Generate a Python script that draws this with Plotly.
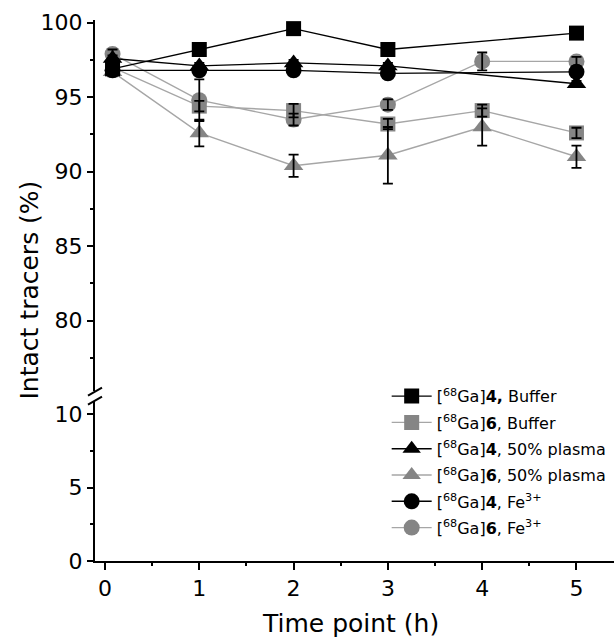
import plotly.graph_objects as go

# ---------------- data ----------------
time_h = [0.08, 1, 2, 3, 4, 5]

ga4_buffer = [96.9, 98.2, 99.6, 98.2, None, 99.3]
ga4_buffer_err = [0.2, 0.2, 0.2, 0.2, None, 0.2]

ga6_buffer = [97.0, 94.4, 94.1, 93.2, 94.1, 92.6]
ga6_buffer_err = [0.3, 0.35, 0.45, 0.35, 0.4, 0.35]

ga4_plasma = [97.6, 97.1, 97.3, 97.1, None, 95.9]
ga4_plasma_err = [0.2, 0.2, 0.2, 0.2, None, 0.2]

ga6_plasma = [96.7, 92.6, 90.4, 91.1, 93.0, 91.0]
ga6_plasma_err = [0.3, 0.9, 0.75, 1.9, 1.25, 0.75]

ga4_fe = [96.8, 96.8, 96.8, 96.6, None, 96.7]
ga4_fe_err = [0.2, 0.2, 0.2, 0.2, None, 0.2]

ga6_fe = [97.9, 94.8, 93.5, 94.5, 97.4, 97.4]
ga6_fe_err = [0.3, 1.4, 0.4, 0.35, 0.6, 0.3]

series_names = [
    "[<sup>68</sup>Ga]<b>4,</b> Buffer",
    "[<sup>68</sup>Ga]<b>6</b>, Buffer",
    "[<sup>68</sup>Ga]<b>4</b>, 50% plasma",
    "[<sup>68</sup>Ga]<b>6</b>, 50% plasma",
    "[<sup>68</sup>Ga]<b>4</b>, Fe<sup>3+</sup>",
    "[<sup>68</sup>Ga]<b>6</b>, Fe<sup>3+</sup>",
]

x_ticks = [0, 1, 2, 3, 4, 5]
y_ticks_low = [0, 5, 10]
y_ticks_high = [80, 85, 90, 95, 100]

# ---------------- styling / layout ----------------
BLACK = "#000000"
GRAY = "#858585"
GRAY_LINE = "#a6a6a6"
FONT = "DejaVu Sans"

W, H = 614, 637
ML, MR, MT, MB = 95, 0, 20, 76
PH = H - MT - MB
PW = W - ML - MR

low_range = [0, 10.88]
high_range = [75.28, 100.18]
px_low = 14.7
px_high = 14.9
low_dom = [0, (low_range[1] - low_range[0]) * px_low / PH]
high_dom = [1 - (high_range[1] - high_range[0]) * px_high / PH, 1]
x_range = [-0.106, 5.398]

specs = [
    (0, ga4_buffer, ga4_buffer_err, "square", BLACK, BLACK, 15),
    (1, ga6_buffer, ga6_buffer_err, "square", GRAY, GRAY_LINE, 15),
    (2, ga4_plasma, ga4_plasma_err, "triangle-up", BLACK, BLACK, 17),
    (3, ga6_plasma, ga6_plasma_err, "triangle-up", GRAY, GRAY_LINE, 17),
    (4, ga4_fe, ga4_fe_err, "circle", BLACK, BLACK, 16),
    (5, ga6_fe, ga6_fe_err, "circle", GRAY, GRAY_LINE, 16),
]
draw_order = [3, 1, 5, 4, 2, 0]

fig = go.Figure()

# empty trace so the lower axis segment exists
fig.add_trace(go.Scatter(x=[], y=[], xaxis="x", yaxis="y", showlegend=False,
                         hoverinfo="skip"))

for k in draw_order:
    idx, yv, ev, sym, mc, lc, sz = specs[k]
    fig.add_trace(go.Scatter(
        x=time_h, y=yv, name=series_names[idx], mode="lines+markers",
        xaxis="x", yaxis="y2", connectgaps=True,
        line=dict(color=lc, width=1.4),
        marker=dict(symbol=sym, size=sz, color=mc, line=dict(width=0)),
        legendrank=idx + 1, legendgroup=f"g{idx}", cliponaxis=False,
    ))

# error bars on top of all markers
for k in draw_order:
    idx, yv, ev, sym, mc, lc, sz = specs[k]
    fig.add_trace(go.Scatter(
        x=time_h, y=yv, mode="markers", xaxis="x", yaxis="y2",
        marker=dict(size=1, opacity=0), showlegend=False, hoverinfo="skip",
        legendgroup=f"g{idx}",
        error_y=dict(type="data", array=ev, visible=True, color=BLACK,
                     thickness=1.8, width=5),
        cliponaxis=False,
    ))

axis_common = dict(
    showline=True, linecolor=BLACK, linewidth=2, showgrid=False, zeroline=False,
    ticks="outside", ticklen=6, tickwidth=2, tickcolor=BLACK,
    tickfont=dict(family=FONT, size=22, color=BLACK),
)

fig.update_layout(
    width=W, height=H,
    margin=dict(l=ML, r=MR, t=MT, b=MB, autoexpand=False),
    paper_bgcolor="white", plot_bgcolor="white",
    font=dict(family=FONT, color=BLACK),
    xaxis=dict(range=x_range, domain=[0, 1], anchor="y", tickvals=x_ticks,
               minor=dict(dtick=0.5, tick0=0, ticks="outside", ticklen=3,
                          tickwidth=2, tickcolor=BLACK),
               ticklen=7, **{k: v for k, v in axis_common.items() if k != "ticklen"}),
    yaxis=dict(range=low_range, domain=low_dom, anchor="x", tickvals=y_ticks_low,
               minor=dict(dtick=2.5, tick0=0, ticks="outside", ticklen=3,
                          tickwidth=2, tickcolor=BLACK),
               **axis_common),
    yaxis2=dict(range=high_range, domain=high_dom, anchor="x", tickvals=y_ticks_high,
                minor=dict(dtick=2.5, tick0=0, ticks="outside", ticklen=3,
                           tickwidth=2, tickcolor=BLACK),
                **axis_common),
    showlegend=True,
    legend=dict(x=0.562, y=0.336, xanchor="left", yanchor="top",
                bgcolor="rgba(0,0,0,0)", borderwidth=0, itemwidth=40,
                font=dict(family=FONT, size=16, color=BLACK),
                traceorder="grouped", tracegroupgap=2.5, itemclick=False),
)

# axis titles
fig.add_annotation(text="Intact tracers (%)", xref="paper", yref="paper",
                   x=(29 - ML) / PW, y=0.5, textangle=-90, showarrow=False,
                   xanchor="center", yanchor="middle",
                   font=dict(family=FONT, size=25, color=BLACK))
fig.add_annotation(text="Time point (h)", xref="paper", yref="paper",
                   x=(350 - ML) / PW, y=-(623 - (MT + PH)) / PH, showarrow=False,
                   xanchor="center", yanchor="middle",
                   font=dict(family=FONT, size=25, color=BLACK))

# axis-break marks (two short slashes across the gap)
gap_mid = (low_dom[1] + high_dom[0]) / 2
dx = 7 / PW
dy = 4 / PH
sep = 4.5 / PH
for off in (-sep, sep):
    fig.add_shape(type="line", xref="paper", yref="paper",
                  x0=-dx, y0=gap_mid + off - dy, x1=dx, y1=gap_mid + off + dy,
                  line=dict(color=BLACK, width=2))

fig.write_html(
    "out.html",
    config={"displayModeBar": False},
    post_script="document.body.style.margin='0';document.body.style.overflow='hidden';",
)
